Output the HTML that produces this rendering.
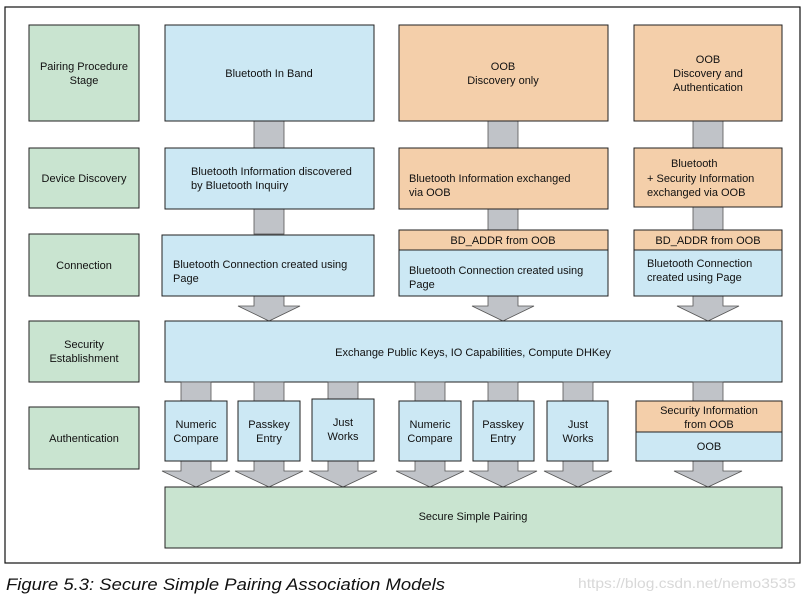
<!DOCTYPE html>
<html><head><meta charset="utf-8"><style>
html,body{margin:0;padding:0;background:#fff;}
svg{display:block;}
text{font-family:"Liberation Sans",Arial,sans-serif;font-size:11px;fill:#111;}
.g{fill:#c9e4d0;stroke:#222;stroke-width:1}
.b{fill:#cce8f4;stroke:#222;stroke-width:1}
.o{fill:#f4cfaa;stroke:#222;stroke-width:1}
.a{fill:#c0c3c8;stroke:#555;stroke-width:0.8}
</style></head><body>
<svg width="805" height="602" viewBox="0 0 805 602">
<rect x="5" y="7" width="795" height="556" fill="#fff" stroke="#111" stroke-width="1.2"/>
<rect class="g" x="29" y="25" width="110" height="96"/>
<text x="84" y="70" text-anchor="middle">Pairing Procedure</text>
<text x="84" y="84" text-anchor="middle">Stage</text>
<rect class="g" x="29" y="148" width="110" height="60"/>
<text x="84" y="182" text-anchor="middle">Device Discovery</text>
<rect class="g" x="29" y="234" width="110" height="62"/>
<text x="84" y="269" text-anchor="middle">Connection</text>
<rect class="g" x="29" y="321" width="110" height="61"/>
<text x="84" y="348" text-anchor="middle">Security</text>
<text x="84" y="362" text-anchor="middle">Establishment</text>
<rect class="g" x="29" y="407" width="110" height="62"/>
<text x="84" y="442" text-anchor="middle">Authentication</text>

<rect class="a" x="254" y="121" width="30" height="27"/>
<rect class="a" x="254" y="208" width="30" height="26"/>
<rect class="a" x="488" y="121" width="30" height="27"/>
<rect class="a" x="488" y="208" width="30" height="22"/>
<rect class="a" x="693" y="121" width="30" height="27"/>
<rect class="a" x="693" y="207" width="30" height="23"/>
<polygon class="a" points="254,296 284,296 284,306 300,306 269,321 238,306 254,306"/>
<polygon class="a" points="488,296 518,296 518,306 534,306 503,321 472,306 488,306"/>
<polygon class="a" points="693,296 723,296 723,306 739,306 708,321 677,306 693,306"/>

<rect class="b" x="165" y="25" width="209" height="96"/>
<text x="269" y="77" text-anchor="middle">Bluetooth In Band</text>
<rect class="b" x="165" y="148" width="209" height="61"/>
<text x="191" y="175">Bluetooth Information discovered</text>
<text x="191" y="189">by Bluetooth Inquiry</text>
<rect class="b" x="162" y="235" width="212" height="61"/>
<text x="173" y="268">Bluetooth Connection created using</text>
<text x="173" y="282">Page</text>

<rect class="o" x="399" y="25" width="209" height="96"/>
<text x="503" y="70" text-anchor="middle">OOB</text>
<text x="503" y="84" text-anchor="middle">Discovery only</text>
<rect class="o" x="399" y="148" width="209" height="61"/>
<text x="409" y="182">Bluetooth Information exchanged</text>
<text x="409" y="196">via OOB</text>
<rect class="o" x="399" y="230" width="209" height="20"/>
<text x="503" y="244" text-anchor="middle">BD_ADDR from OOB</text>
<rect class="b" x="399" y="250" width="209" height="46"/>
<text x="409" y="274">Bluetooth Connection created using</text>
<text x="409" y="288">Page</text>

<rect class="o" x="634" y="25" width="148" height="96"/>
<text x="708" y="63" text-anchor="middle">OOB</text>
<text x="708" y="77" text-anchor="middle">Discovery and</text>
<text x="708" y="91" text-anchor="middle">Authentication</text>
<rect class="o" x="634" y="148" width="148" height="59"/>
<text x="671" y="167">Bluetooth</text>
<text x="647" y="182">+ Security Information</text>
<text x="647" y="196">exchanged via OOB</text>
<rect class="o" x="634" y="230" width="148" height="20"/>
<text x="708" y="244" text-anchor="middle">BD_ADDR from OOB</text>
<rect class="b" x="634" y="250" width="148" height="46"/>
<text x="647" y="267">Bluetooth Connection</text>
<text x="647" y="281">created using Page</text>

<rect class="b" x="165" y="321" width="617" height="61"/>
<text x="473" y="356" text-anchor="middle">Exchange Public Keys, IO Capabilities, Compute DHKey</text>

<g>
<rect class="a" x="181" y="382" width="30" height="19"/>
<rect class="a" x="254" y="382" width="30" height="19"/>
<rect class="a" x="328" y="382" width="30" height="19"/>
<rect class="a" x="415" y="382" width="30" height="19"/>
<rect class="a" x="488" y="382" width="30" height="19"/>
<rect class="a" x="563" y="382" width="30" height="19"/>
<rect class="a" x="693" y="382" width="30" height="19"/>
<polygon class="a" points="181,461 211,461 211,471 230,471 196,487 162,471 181,471"/>
<polygon class="a" points="254,461 284,461 284,471 303,471 269,487 235,471 254,471"/>
<polygon class="a" points="328,461 358,461 358,471 377,471 343,487 309,471 328,471"/>
<polygon class="a" points="415,461 445,461 445,471 464,471 430,487 396,471 415,471"/>
<polygon class="a" points="488,461 518,461 518,471 537,471 503,487 469,471 488,471"/>
<polygon class="a" points="563,461 593,461 593,471 612,471 578,487 544,471 563,471"/>
<polygon class="a" points="693,461 723,461 723,471 742,471 708,487 674,471 693,471"/>
</g>
<rect class="b" x="165" y="401" width="62" height="60"/>
<text x="196" y="428" text-anchor="middle">Numeric</text><text x="196" y="442" text-anchor="middle">Compare</text>
<rect class="b" x="238" y="401" width="62" height="60"/>
<text x="269" y="428" text-anchor="middle">Passkey</text><text x="269" y="442" text-anchor="middle">Entry</text>
<rect class="b" x="312" y="399" width="62" height="62"/>
<text x="343" y="426" text-anchor="middle">Just</text><text x="343" y="440" text-anchor="middle">Works</text>
<rect class="b" x="399" y="401" width="62" height="60"/>
<text x="430" y="428" text-anchor="middle">Numeric</text><text x="430" y="442" text-anchor="middle">Compare</text>
<rect class="b" x="473" y="401" width="61" height="60"/>
<text x="503" y="428" text-anchor="middle">Passkey</text><text x="503" y="442" text-anchor="middle">Entry</text>
<rect class="b" x="547" y="401" width="61" height="60"/>
<text x="578" y="428" text-anchor="middle">Just</text><text x="578" y="442" text-anchor="middle">Works</text>
<rect class="b" x="636" y="401" width="146" height="60"/>
<rect class="o" x="636" y="401" width="146" height="31"/>
<text x="709" y="414" text-anchor="middle">Security Information</text>
<text x="709" y="428" text-anchor="middle">from OOB</text>
<text x="709" y="450" text-anchor="middle">OOB</text>

<rect class="g" x="165" y="487" width="617" height="61"/>
<text x="473" y="520" text-anchor="middle">Secure Simple Pairing</text>

<text x="6" y="590" textLength="439" lengthAdjust="spacingAndGlyphs" style="font-size:17px;font-style:italic;">Figure 5.3:  Secure Simple Pairing Association Models</text>
<text x="578" y="588" textLength="218" lengthAdjust="spacingAndGlyphs" style="font-size:14px;fill:#d8d8d8;">https://blog.csdn.net/nemo3535</text>
</svg>
</body></html>
